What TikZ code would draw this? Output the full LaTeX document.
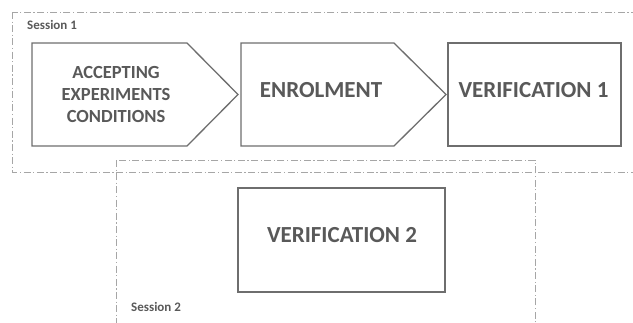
\documentclass[tikz,border=0pt]{standalone}
\usepackage{fontspec}
\setmainfont{Carlito}
\definecolor{txt}{HTML}{595959}
\definecolor{edge}{HTML}{6E6E6E}
\definecolor{sess}{HTML}{A6A6A6}
\begin{document}
\begin{tikzpicture}[x=1pt,y=-1pt,
  shapeline/.style={draw=edge, line width=1.3pt, fill=white},
  sessline/.style={draw=sess, line width=0.9pt, dash pattern=on 7pt off 2.5pt on 1.2pt off 2.5pt},
  bigtxt/.style={text=txt, font=\bfseries\fontsize{23}{26}\selectfont, inner sep=0pt},
  midtxt/.style={text=txt, font=\bfseries\fontsize{18.5}{22}\selectfont, align=center, inner sep=0pt},
  labtxt/.style={text=txt, font=\bfseries\fontsize{13}{14}\selectfont, inner sep=0pt, anchor=west}]
\useasboundingbox (0,0) rectangle (633,322);
\begin{scope}
\clip (0,0) rectangle (633,322);
\draw[sessline] (12,12) rectangle (660,172);
\draw[sessline] (116,160) rectangle (535,340);
\end{scope}
% shapes
\draw[shapeline] (32,43) -- (187,43) -- (238,94.5) -- (187,146) -- (32,146) -- cycle;
\draw[shapeline] (241,43) -- (394,43) -- (446,94.5) -- (394,146) -- (241,146) -- cycle;
\draw[shapeline] (448,43) rectangle (621,146);
\draw[shapeline] (238,188) rectangle (445,292);
% texts
\node[midtxt] (acc) at (116,94) {ACCEPTING\\EXPERIMENTS\\CONDITIONS};
\node[bigtxt] (enr) at (321,90) {ENROLMENT};
\node[bigtxt] (ver1) at (533.5,90) {VERIFICATION 1};
\node[bigtxt] (ver2) at (342,235) {VERIFICATION 2};
\node[labtxt] (s1) at (27,25) {Session 1};
\node[labtxt] (s2) at (131,307) {Session 2};
\end{tikzpicture}
\end{document}
